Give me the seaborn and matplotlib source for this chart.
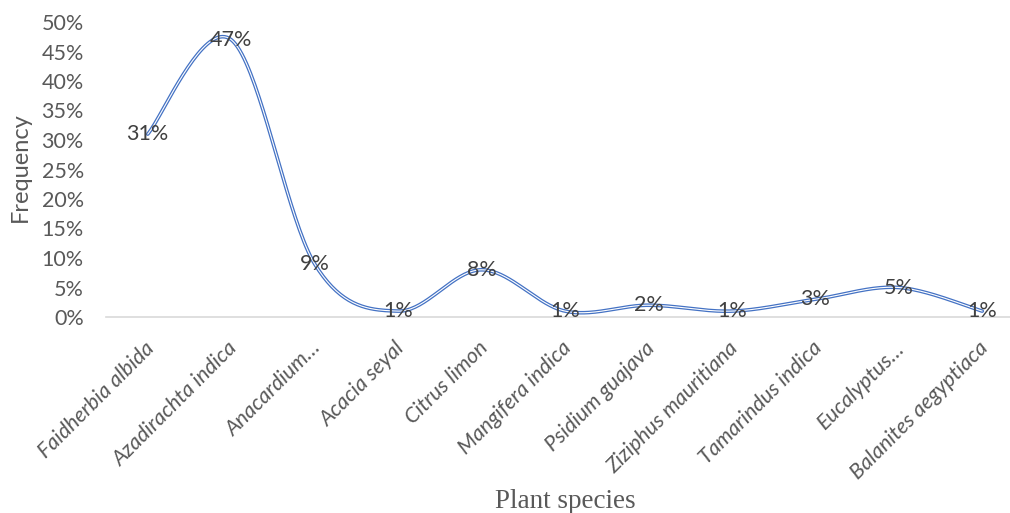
import numpy as np
import pandas as pd
import matplotlib
matplotlib.use("Agg")
import matplotlib.pyplot as plt
import matplotlib.transforms as mtransforms
import seaborn as sns
from matplotlib.ticker import PercentFormatter

# Plant species and their frequency (%)
species = ["Faidherbia albida", "Azadirachta indica", "Anacardium…", "Acacia seyal",
           "Citrus limon", "Mangifera indica", "Psidium guajava", "Ziziphus mauritiana",
           "Tamarindus indica", "Eucalyptus…", "Balanites aegyptiaca"]
frequency = [31, 47, 9, 1, 8, 1, 2, 1, 3, 5, 1]
y_ticks = list(range(0, 55, 5))

sns.set_theme(style="white")
plt.rcParams["font.family"] = ["Lato", "DejaVu Sans"]

text_grey = "#595959"
label_grey = "#404040"
line_blue = "#4472C4"


def smooth_curve(xs, ys, steps=40):
    """Bezier smoothing through every point (Catmull-Rom style control points)."""
    xs = np.asarray(xs, float)
    ys = np.asarray(ys, float)
    px = np.concatenate([[xs[0]], xs, [xs[-1]]])
    py = np.concatenate([[ys[0]], ys, [ys[-1]]])
    out_x, out_y = [], []
    t = np.linspace(0, 1, steps)
    for i in range(1, len(px) - 2):
        p0 = np.array([px[i], py[i]])
        p3 = np.array([px[i + 1], py[i + 1]])
        c1 = p0 + (np.array([px[i + 1], py[i + 1]]) - np.array([px[i - 1], py[i - 1]])) / 6
        c2 = p3 - (np.array([px[i + 2], py[i + 2]]) - np.array([px[i], py[i]])) / 6
        b = ((1 - t) ** 3)[:, None] * p0 + (3 * (1 - t) ** 2 * t)[:, None] * c1 \
            + (3 * (1 - t) * t ** 2)[:, None] * c2 + (t ** 3)[:, None] * p3
        out_x.extend(b[:, 0])
        out_y.extend(b[:, 1])
    return np.array(out_x), np.array(out_y)


positions = np.arange(len(species))
cx, cy = smooth_curve(positions, frequency)
curve = pd.DataFrame({"pos": cx, "freq": cy})

fig = plt.figure(figsize=(10.10, 5.13), dpi=100)
ax = fig.add_axes([106 / 1010, (513 - 317) / 513, 918 / 1010, 295 / 513])

# double-stroke line: blue outline with a white core
sns.lineplot(data=curve, x="pos", y="freq", ax=ax, color=line_blue, lw=2.6,
             sort=False, estimator=None)
sns.lineplot(data=curve, x="pos", y="freq", ax=ax, color="white", lw=0.8,
             sort=False, estimator=None)

for x, v in zip(positions, frequency):
    ax.text(x, v, f"{v}%", ha="center", va="center", fontsize=15.5, color=label_grey)

ax.set_xlim(-0.5, len(species) - 0.5)
ax.set_ylim(0, 50)
ax.set_yticks(y_ticks)
ax.yaxis.set_major_formatter(PercentFormatter(decimals=0))
ax.set_xticks(positions)
ax.set_xticklabels(species, rotation=45, ha="right", rotation_mode="anchor",
                   fontstyle="italic", fontsize=15.5, color=text_grey)
ax.tick_params(axis="y", labelsize=15.5, labelcolor=text_grey, pad=16, length=0)
ax.tick_params(axis="x", pad=15, length=0)

# nudge the slanted species names slightly to the left
shift = mtransforms.ScaledTranslation(-4 / 100, 0, fig.dpi_scale_trans)
for lbl in ax.get_xticklabels():
    lbl.set_transform(lbl.get_transform() + shift)

for side in ["top", "right", "left"]:
    ax.spines[side].set_visible(False)
ax.spines["bottom"].set_color("#D9D9D9")
ax.spines["bottom"].set_linewidth(1.2)

ax.set_ylabel("")
ax.set_xlabel("")
fig.text(20 / 1010, 1 - 167 / 513, "Frequency", rotation=90, ha="center", va="center",
         fontsize=17, color=text_grey)
fig.text(565 / 1010, 1 - 502 / 513, "Plant species", ha="center", va="center",
         fontsize=19.5, color=text_grey, family="Liberation Serif")

fig.savefig("out.png", dpi=100)
